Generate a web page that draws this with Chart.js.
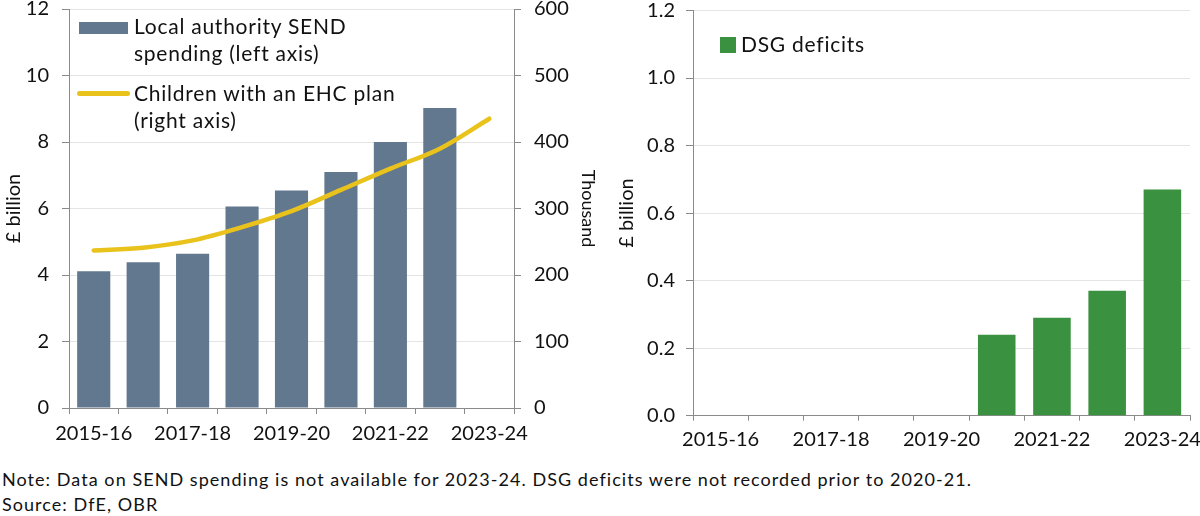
<!DOCTYPE html>
<html>
<head>
<meta charset="utf-8">
<script src="https://cdn.jsdelivr.net/npm/chart.js@4.4.0/dist/chart.umd.min.js"></script>
<style>
html,body{margin:0;padding:0;background:#fff;}
body{width:1200px;height:516px;position:relative;overflow:hidden;font-family:Lato,"Open Sans",sans-serif;color:#111;}
canvas{position:absolute;top:0;}
#c1{left:0;}
#c2{left:600px;}
.lt{position:absolute;font-size:21px;line-height:26.5px;letter-spacing:0.75px;white-space:nowrap;}
.sw{position:absolute;}
.note{position:absolute;left:2px;top:467px;font-size:18px;line-height:25px;letter-spacing:1.05px;white-space:nowrap;}
</style>
</head>
<body>
<canvas id="c1" width="600" height="460"></canvas>
<canvas id="c2" width="600" height="460"></canvas>

<div class="sw" style="left:79px;top:22px;width:49px;height:12px;background:#62788f;"></div>
<div class="lt" style="left:134px;top:13px;">Local authority SEND<br>spending (left axis)</div>
<div class="sw" style="left:77px;top:91px;width:53px;height:5px;border-radius:3px;background:#e9c21c;"></div>
<div class="lt" style="left:134px;top:80px;">Children with an EHC plan<br>(right axis)</div>

<div class="sw" style="left:720px;top:37px;width:16px;height:16px;background:#3a913f;"></div>
<div class="lt" style="left:741px;top:31px;">DSG deficits</div>

<div class="note">Note: Data on SEND spending is not available for 2023-24. DSG deficits were not recorded prior to 2020-21.<br>Source: DfE, OBR</div>

<script>
// ---- data ----
const categories = ['2015-16','2016-17','2017-18','2018-19','2019-20','2020-21','2021-22','2022-23','2023-24'];
const shownLabels = ['2015-16','2017-18','2019-20','2021-22','2023-24'];
const sendSpending = [4.11, 4.38, 4.64, 6.06, 6.54, 7.10, 8.00, 9.02, null];   // £ billion
const ehcPlans = [237, 241, 252, 272, 296, 328, 360, 390, 435];               // thousand
const dsgDeficits = [null, null, null, null, null, 0.24, 0.29, 0.37, 0.67];   // £ billion

// ---- styles ----
const FONT = 'Lato, "Open Sans", sans-serif';
const TXT = '#111';
const AXIS = '#8a8a8a';
const GRID = '#e4e4e4';
const BAR_BLUE = '#62788f';
const LINE_YEL = '#e9c21c';
const BAR_GREEN = '#3a913f';
const tickFont = {family: FONT, size: 20};

function xLabel(v, i) {
  return shownLabels.includes(categories[i]) ? categories[i] : '';
}

new Chart(document.getElementById('c1'), {
  data: {
    labels: categories,
    datasets: [
      {type: 'line', label: 'Children with an EHC plan (right axis)', data: ehcPlans, yAxisID: 'y1',
       borderColor: LINE_YEL, borderWidth: 4.5, pointRadius: 0, tension: 0.4,
       cubicInterpolationMode: 'monotone', borderCapStyle: 'round', fill: false, order: 0},
      {type: 'bar', label: 'Local authority SEND spending (left axis)', data: sendSpending, yAxisID: 'y',
       backgroundColor: BAR_BLUE, categoryPercentage: 1, barPercentage: 0.67, order: 1}
    ]
  },
  options: {
    responsive: false, animation: false, devicePixelRatio: 1,
    layout: {padding: {top: 9, left: 0, right: 0, bottom: 0}},
    plugins: {legend: {display: false}, tooltip: {enabled: false}},
    scales: {
      x: {
        grid: {offset: true, drawOnChartArea: false, tickLength: 6, tickColor: AXIS},
        border: {display: true, color: AXIS},
        ticks: {font: tickFont, color: TXT, autoSkip: false, maxRotation: 0, minRotation: 0, padding: 8, callback: xLabel},
        afterFit: s => { s.height = 52; s.paddingLeft = 0; s.paddingRight = 0; }
      },
      y: {
        position: 'left', min: 0, max: 12,
        ticks: {stepSize: 2, font: tickFont, color: TXT, padding: 13},
        grid: {color: GRID, tickColor: AXIS, tickLength: 7},
        border: {display: true, color: AXIS},
        title: {display: true, text: '£ billion', font: {family: FONT, size: 20}, color: TXT, padding: {top: 2, bottom: 0}},
        afterFit: s => { s.width = 69; s.paddingTop = 0; s.paddingBottom = 0; }
      },
      y1: {
        position: 'right', min: 0, max: 600,
        ticks: {stepSize: 100, font: tickFont, color: TXT, padding: 13},
        grid: {drawOnChartArea: false, tickColor: AXIS, tickLength: 7},
        border: {display: true, color: AXIS},
        title: {display: true, text: 'Thousand', font: {family: FONT, size: 18}, color: TXT, padding: {top: 1, bottom: 0}},
        afterFit: s => { s.width = 86; s.paddingTop = 0; s.paddingBottom = 0; }
      }
    }
  }
});

new Chart(document.getElementById('c2'), {
  type: 'bar',
  data: {
    labels: categories,
    datasets: [
      {label: 'DSG deficits', data: dsgDeficits, backgroundColor: BAR_GREEN, categoryPercentage: 1, barPercentage: 0.68}
    ]
  },
  options: {
    responsive: false, animation: false, devicePixelRatio: 1,
    layout: {padding: {top: 10.5, left: 0, right: 10, bottom: 0}},
    plugins: {legend: {display: false}, tooltip: {enabled: false}},
    scales: {
      x: {
        grid: {offset: true, drawOnChartArea: false, tickLength: 5, tickColor: AXIS},
        border: {display: true, color: AXIS},
        ticks: {font: tickFont, color: TXT, autoSkip: false, maxRotation: 0, minRotation: 0, padding: 7, callback: xLabel},
        afterFit: s => { s.height = 44.3; s.paddingLeft = 0; s.paddingRight = 0; }
      },
      y: {
        position: 'left', min: 0, max: 1.2,
        ticks: {stepSize: 0.2, font: tickFont, color: TXT, padding: 11, callback: v => Number(v).toFixed(1)},
        grid: {color: GRID, tickColor: AXIS, tickLength: 7},
        border: {display: true, color: AXIS},
        title: {display: true, text: '£ billion', font: {family: FONT, size: 20}, color: TXT, padding: {top: 15, bottom: 0}},
        afterFit: s => { s.width = 93; s.paddingTop = 0; s.paddingBottom = 0; }
      }
    }
  }
});
</script>
</body>
</html>
